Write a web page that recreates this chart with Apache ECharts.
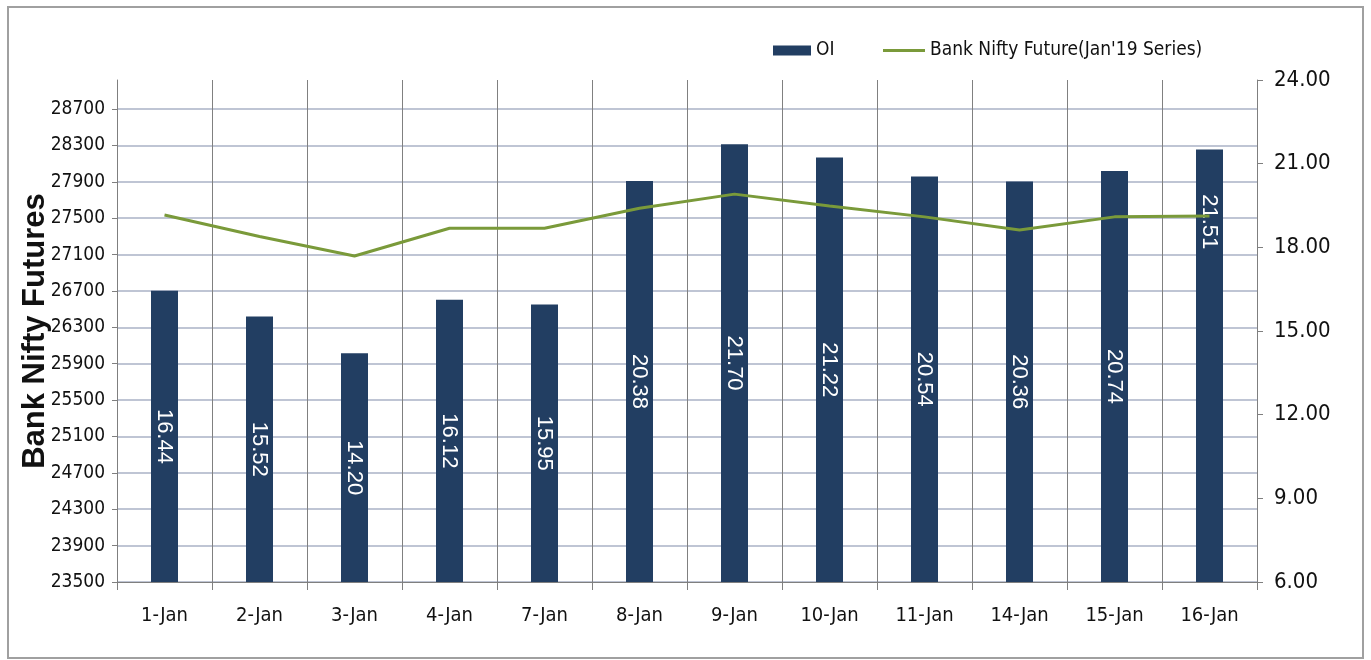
<!DOCTYPE html>
<html>
<head>
<meta charset="utf-8">
<title>Bank Nifty Future vs OI</title>
<script src="https://cdn.jsdelivr.net/npm/echarts@6/dist/echarts.min.js"></script>
<style>
  html, body { margin: 0; padding: 0; background: #fff; }
  #chart { width: 1371px; height: 660px; }
</style>
</head>
<body>
<div id="chart"></div>
<script>
// categories (trading days)
var days = ['1-Jan', '2-Jan', '3-Jan', '4-Jan', '7-Jan', '8-Jan', '9-Jan', '10-Jan', '11-Jan', '14-Jan', '15-Jan', '16-Jan']
// OI (right axis, bars)
var oiValues = [16.44, 15.52, 14.20, 16.12, 15.95, 20.38, 21.70, 21.22, 20.54, 20.36, 20.74, 21.51]
// Bank Nifty Future Jan'19 series (left axis, line)
var futureValues = [27535, 27300, 27085, 27390, 27390, 27610, 27765, 27635, 27515, 27370, 27515, 27525]

var oiName = 'OI'
var futName = "Bank Nifty Future(Jan'19 Series)"

var narrow = '"Liberation Sans Narrow", "Arial Narrow", "DejaVu Sans Condensed", sans-serif'

var chart = echarts.init(document.getElementById('chart'))

chart.setOption({
  backgroundColor: '#fff',
  animation: false,
  graphic: [{
    type: 'rect',
    shape: { x: 8, y: 7, width: 1355, height: 651 },
    style: { fill: 'none', stroke: '#a0a0a0', lineWidth: 2 },
    silent: true
  }],
  // two legends so the line swatch can be a plain thin bar
  legend: [{
    left: 768,
    top: 36,
    itemWidth: 38,
    itemHeight: 10,
    icon: 'rect',
    textStyle: { fontFamily: narrow, fontSize: 19, color: '#111' },
    data: [oiName]
  }, {
    left: 878,
    top: 36,
    itemWidth: 42,
    itemHeight: 3,
    icon: 'rect',
    textStyle: { fontFamily: narrow, fontSize: 19, color: '#111' },
    data: [futName]
  }],
  grid: {
    left: 117,
    right: 114,
    top: 80,
    bottom: 78
  },
  xAxis: {
    type: 'category',
    data: days,
    boundaryGap: true,
    axisLine: { lineStyle: { color: '#7f7f7f', width: 1 } },
    axisTick: { show: true, length: 8, lineStyle: { color: '#7f7f7f' } },
    axisLabel: { fontFamily: narrow, fontSize: 20, color: '#111', margin: 24 },
    splitLine: { show: true, lineStyle: { color: '#808080', width: 1 } }
  },
  yAxis: [{
    type: 'value',
    position: 'left',
    min: 23500,
    max: 29020,
    interval: 400,
    name: 'Bank Nifty Futures',
    nameLocation: 'middle',
    nameRotate: 90,
    nameGap: 66,
    nameMoveOverlap: false,
    nameTextStyle: { fontFamily: '"Liberation Sans", Arial, sans-serif', fontWeight: 'bold', fontSize: 31, color: '#111' },
    axisLine: { show: true, lineStyle: { color: '#7f7f7f' } },
    axisTick: { show: true, length: 5, lineStyle: { color: '#7f7f7f' } },
    axisLabel: {
      fontFamily: narrow, fontSize: 19, color: '#111', margin: 12, showMaxLabel: false,
      formatter: function (v) { return String(v) }
    },
    splitLine: { show: true, showMaxLine: false, lineStyle: { color: '#aab2c6', width: 1.5 } }
  }, {
    type: 'value',
    position: 'right',
    min: 6,
    max: 24,
    interval: 3,
    axisLine: { show: true, lineStyle: { color: '#7f7f7f' } },
    axisTick: { show: true, length: 6, lineStyle: { color: '#7f7f7f' } },
    axisLabel: {
      fontFamily: narrow, fontSize: 22, color: '#111', margin: 17,
      formatter: function (v) { return v.toFixed(2) }
    },
    splitLine: { show: false }
  }],
  series: [{
    name: oiName,
    type: 'bar',
    yAxisIndex: 1,
    barWidth: 27,
    itemStyle: { color: '#223e62' },
    label: {
      show: true,
      position: 'inside',
      rotate: -90,
      color: '#fff',
      fontFamily: '"Liberation Sans", Arial, sans-serif',
      fontSize: 22,
      formatter: function (p) { return p.value.toFixed(2) }
    },
    // last label sits higher up its bar in the original (offset is in the rotated frame)
    data: oiValues.map(function (v, i) {
      return i === oiValues.length - 1 ? { value: v, label: { offset: [-144, 0] } } : v
    }),
    z: 2
  }, {
    name: futName,
    type: 'line',
    yAxisIndex: 0,
    symbol: 'none',
    lineStyle: { color: '#7a9a3a', width: 3 },
    itemStyle: { color: '#7a9a3a' },
    data: futureValues,
    z: 3
  }]
})
</script>
</body>
</html>
